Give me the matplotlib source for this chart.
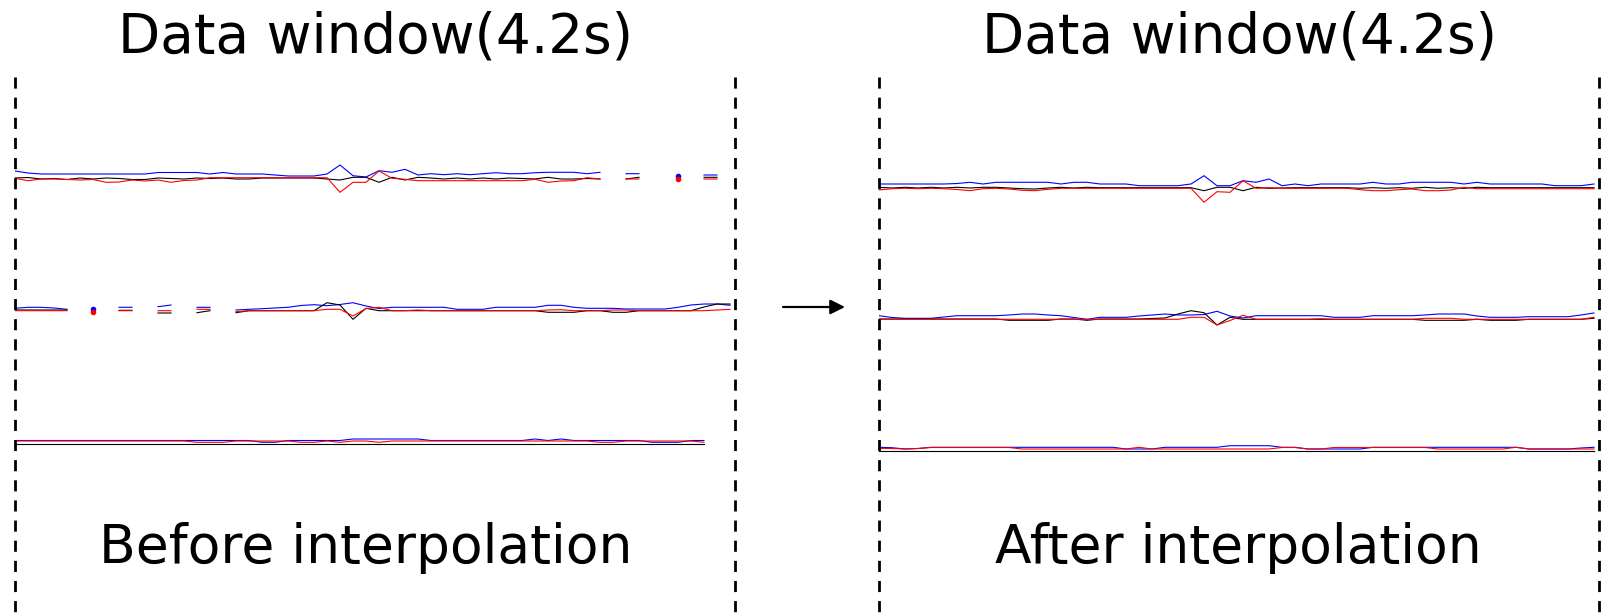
import numpy as np
import matplotlib.pyplot as plt

plt.rcParams['lines.scale_dashes'] = False
nan = np.nan

title = 'Data window(4.2s)'
captions = ['Before interpolation', 'After interpolation']

# sample index along the 4.2 s window (56 samples)
idx = np.arange(56)

# signal values (px-like units, up is positive)
# ---- before interpolation (NaN = missing samples)
top_blue_before = [7, 5, 4, 4, 4, 4, 4, 4, 4, 4, 4, 5.5, 5.5, 5.5,
                   5.5, 4, 5.5, 4, 4, 4, 3, 2, 2, 2, 4, 13, 2.3, 1,
                   7.3, 5.7, 8.7, 3, 4.3, 3.3, 4.3, 3.3, 4.3, 5.3, 4.3, 4.3, 5.3, 5.7,
                   5.7, 5.7, 4.3, 5.7, nan, 4.3, 4.3, nan, nan, 2.3, nan, 3, 3, nan]
top_black_before = [0, 0.5, -1, -0.5, -1.5, 0, -1, 0, -0.5, -1.5, -1.5, 0, -0.5, -1,
                    0, -0.5, 0, -1, -1, 0, 0, 0, 0, 0, -1, -2, 0.7, 0.7,
                    -4.3, 0.7, -2, 0.7, 0, -1, 0, -1, 0, -1, 0, -0.5, -1, 0.7,
                    -1, -1, -0.5, -1, nan, -1, 0.7, nan, nan, nan, nan, 0.7, 0.7, nan]
top_red_before = [-0.3, -2.7, -1, -1, -1.5, -2, -1.5, -4.3, -4, -2, -3, -2, -4.3, -2.5,
                  -2, 0.3, 0.3, 0.3, 0.3, 0.3, 0.3, 0.3, 0.3, 0.3, 0.3, -14.3, -4.3, -4.3,
                  7, -0.3, -1.3, -2.7, -2.7, -2.7, -2.7, -2.7, -2.7, -2.7, -2.7, -2.7, -1.3, -4.3,
                  -3, -2.7, 0.3, -1, nan, -1, -1, nan, nan, -1.3, nan, -1, -1, nan]

mid_blue_before = [1.7, 2.7, 2.7, 2, 0.7, nan, 0.7, nan, 2.7, 2.7, nan, 3.3, 5, nan,
                   2.7, 2.7, nan, 0, 0.7, 1.3, 2, 2.7, 4.5, 5.3, 4.3, 5.5, 7.3, 4,
                   1.5, 2.7, 2.7, 2.7, 2.7, 2.7, 0.7, 0.7, 0.7, 2.7, 2.7, 2.7, 2.7, 4.7,
                   4.7, 2.7, 1.7, 1.7, 1.7, 1, 1, 1, 1, 2.7, 5, 6, 6, 4.7]
mid_black_before = [0, 0, 0, 0, 0, nan, nan, nan, -0.3, -0.3, nan, -3, -3, nan,
                    -2.7, -0.7, nan, -2.7, -0.7, -0.7, -0.7, -0.7, -0.7, -0.7, 7.3, 5, -9.3, 1.7,
                    -0.7, -0.7, -0.7, -0.7, -0.7, -0.7, -0.7, -0.7, -0.7, -0.7, -0.7, -0.7, -0.7, -2.3,
                    -2.3, -2.3, -0.7, -0.7, -2.3, -2.3, -0.7, -0.7, -0.7, -0.7, -0.7, 3, 6, 6]
mid_red_before = [-0.7, -0.7, -0.7, -0.7, -0.7, nan, -1.5, nan, -0.7, -0.7, nan, -0.7, -0.7, nan,
                  0.7, 0.7, nan, -1.7, -0.7, -0.7, -0.7, -0.7, -0.7, -0.7, 0.7, 0.7, -6, 1.5,
                  2.7, -0.7, -0.7, 0, -0.7, -0.7, -0.7, -0.7, -0.7, -0.7, -0.7, -0.7, -0.7, 0,
                  0.3, -0.7, -0.7, -0.7, 0, 0, -0.7, -0.7, -0.7, -0.7, -0.7, -0.7, 0, 0.7]

bot_blue_before = [3.5, 3.5, 3.5, 3.5, 3.5, 3.5, 3.5, 3.5, 3.5, 3.5, 3.5, 3.5, 3.5, 3.5,
                   3.5, 3.5, 3.5, 3.5, 3.5, 1.7, 1.7, 3.5, 3.5, 3.5, 3.5, 3.5, 5, 5,
                   5, 5, 5, 5, 3.5, 3.5, 3.5, 3.5, 3.5, 3.5, 3.5, 3.5, 5, 3.5,
                   5, 3.5, 3.5, 3.5, 3.5, 3.5, 3.5, 1.7, 1.7, 1.7, 3.5, 3.5, nan, nan]
bot_black_before = [0] * 54 + [nan, nan]
bot_red_before = [3, 3, 3, 3, 3, 3, 3, 3, 3, 3, 3, 3, 3, 3,
                  1.7, 1.7, 1.7, 3, 3, 3, 3, 3, 1.7, 1.7, 3, 1.7, 3, 3,
                  1.7, 3, 3, 3, 3, 3, 3, 3, 3, 3, 3, 3, 3, 3,
                  3, 3, 3, 1.7, 1.7, 3, 3, 3, 3, 3, 3, 1.7, nan, nan]

# ---- after interpolation
top_blue_after = [4, 4, 4, 4, 4, 4, 4.5, 5.7, 4, 5.7, 5.7, 5.7, 5.7, 5.7,
                  4, 5.7, 5.7, 4, 4, 4, 2.3, 2.3, 2.3, 2.3, 4, 12.3, 2.3, 2.3,
                  7.3, 5.7, 9, 2.3, 4, 2.3, 4, 4, 4, 4, 5.7, 4, 4, 5.7,
                  5.7, 5.7, 5.7, 4, 5.7, 4, 4, 4, 4, 4, 2.3, 2.3, 2.3, 4]
top_black_after = [0.7, 0, 0.7, 0, 0.7, 0, 0.7, 0, 0.7, 0.7, 0, -0.7, -1, 0,
                   0.7, 0, 0.7, 0.3, 0.3, 0.3, 0.3, 0.3, 0.3, 0.3, 0.3, -2.7, 0.7, 0.7,
                   -2.7, 0.7, -0.3, 0, 0.3, 0.3, 0.3, 0.3, 0.3, -0.3, 0.3, -0.3, 0.3, -0.3,
                   0.7, -0.3, 0.3, -0.3, 0.7, 0.3, 0.3, 0.3, 0.3, 0.3, 0.3, 0.3, 0.3, 0.3]
top_red_after = [-2, -0.7, -0.3, -0.7, -0.3, -0.7, -1.5, -2.7, -0.7, -0.3, -1, -2.3, -2.7, -1.3,
                 -0.3, -0.3, -0.3, -0.3, -0.3, -0.3, -0.3, -0.3, -0.3, -0.3, -0.3, -14.3, -3.7, -4.3,
                 7.3, -0.3, 0.3, -0.3, -0.3, -0.3, -0.3, -0.3, -0.3, -1.7, -2.7, -2.7, -1.7, -1,
                 -2.7, -2.7, -2, 0.7, -0.7, -0.7, -0.7, -0.7, -0.7, -0.7, -0.7, -0.7, -0.7, -0.7]

mid_blue_after = [3.3, 1.5, 0.7, 0.7, 0.7, 2, 3.3, 3.3, 3.3, 3.3, 4, 5, 5, 4,
                  3.3, 1.5, -0.3, 1.7, 1.7, 1.7, 3, 4, 5, 4, 4, 4.5, 7.7, 3,
                  1, 3.3, 3.3, 3.3, 3.3, 3.3, 3.3, 1.7, 1.7, 1.7, 3.3, 3.3, 3.3, 3.3,
                  4, 5, 5, 5, 3, 1.7, 1.7, 1.7, 2.3, 2.3, 2.3, 2.3, 4, 6]
mid_black_after = [0, 0, 0, 0, 0, 0, 0, 0, 0, 0, -1.3, -1.3, -1.3, -1.3,
                   0, 0, -1.3, 0, 0, 0, 0, 0.5, 1, 5, 8.3, 6.3, -6, 1.7,
                   -0.3, -0.3, -0.3, -0.3, -0.3, -0.3, -0.3, -0.3, -0.3, -0.3, -0.3, -0.3, -0.3, -0.3,
                   -1.3, -1.3, -1.3, -1.3, -0.3, -1.3, -1.3, -1.3, -0.3, -0.3, -0.3, -0.3, -0.3, 0.7]
mid_red_after = [-0.3, -0.3, -0.3, -0.3, -0.3, -0.3, -0.3, -0.3, -0.3, -0.3, -0.3, -0.3, -0.3, -0.3,
                 -0.3, -0.3, -0.3, -0.3, -0.3, -0.3, -0.3, -0.3, -0.3, -0.3, 1.7, 1.7, -6, -1.5,
                 3.7, -0.3, -0.3, -0.3, -0.3, -0.3, 0.3, -0.3, -0.3, -0.3, -0.3, -0.3, -0.3, -0.3,
                 0.7, 0.7, 0.7, -0.3, -0.3, -0.3, -0.3, -0.3, -0.3, -0.3, -0.3, -0.3, -0.3, 1.7]

bot_blue_after = [3.7, 3.3, 2, 2.5, 3.7, 3.7, 3.7, 3.7, 3.7, 3.7, 3.7, 3.7, 3.7, 3.7,
                  3.7, 3.7, 3.7, 3.7, 3.7, 2, 2, 2, 3.7, 3.7, 3.7, 3.7, 3.7, 5.3,
                  5.3, 5.3, 5.3, 3.7, 3.7, 2, 2, 2, 2, 2, 3.7, 3.7, 3.7, 3.7,
                  3.7, 3.7, 3.7, 3.7, 3.7, 3.7, 3.7, 3.7, 2, 2, 2, 2, 3, 3.7]
bot_black_after = [0] * 56
bot_red_after = [2.7, 2.5, 2, 2.5, 3.5, 3.5, 3.5, 3.5, 3.5, 3.5, 3.5, 2, 2, 2,
                 2, 2, 2, 2, 2, 2, 3.7, 2, 2, 2, 2, 2, 2, 2,
                 2, 2, 2, 3.5, 3.5, 2, 2, 3.5, 3.5, 3.5, 3.5, 3.5, 3.5, 3.5,
                 3.5, 2, 2, 2, 2, 2, 2, 3.7, 2, 2, 2, 2, 2, 2]

W, H = 1601, 613
fig = plt.figure(figsize=(W / 100, H / 100), dpi=100)


def draw_panel(left_px, groups, baselines):
    ax = fig.add_axes([left_px / W, 0, 720 / W, 1])
    ax.set_xlim(0, 720 / 13)
    ax.set_ylim(H, 0)
    ax.axis('off')
    for (blue, black, red), base in zip(groups, baselines):
        for vals, col in ((blue, 'blue'), (black, 'black'), (red, 'red')):
            y = base - np.asarray(vals, dtype=float)
            ax.plot(idx, y, color=col, lw=0.8)
            # single samples between gaps show up as dots
            ok = ~np.isnan(y)
            lone = ok & ~np.r_[False, ok[:-1]] & ~np.r_[ok[1:], False]
            if lone.any():
                ax.plot(idx[lone], y[lone], 'o', color=col, ms=3)
    for xv in (0, 720 / 13):
        ax.plot([xv, xv], [77, H], color='black', lw=2, dashes=(8, 6.5),
                clip_on=False)
    return ax


ax1 = draw_panel(15, [(top_blue_before, top_black_before, top_red_before),
                      (mid_blue_before, mid_black_before, mid_red_before),
                      (bot_blue_before, bot_black_before, bot_red_before)],
                 [178, 310, 444])
ax2 = draw_panel(879, [(top_blue_after, top_black_after, top_red_after),
                       (mid_blue_after, mid_black_after, mid_red_after),
                       (bot_blue_after, bot_black_after, bot_red_after)],
                 [188, 319, 451])

for cx in (375, 1239):
    fig.text(cx / W, 1 - 38 / H, title, ha='center', va='center', fontsize=39.5)
for cx, cap in zip((366, 1238), captions):
    fig.text(cx / W, 1 - 548 / H, cap, ha='center', va='center', fontsize=38.5)

ax1.annotate('', xy=(845 / W, 1 - 307 / H), xytext=(783 / W, 1 - 307 / H),
             xycoords='figure fraction', textcoords='figure fraction',
             arrowprops=dict(arrowstyle='-|>', color='black', lw=1.6,
                             mutation_scale=22, shrinkA=0, shrinkB=0),
             annotation_clip=False)

fig.savefig('out.png', dpi=100)
